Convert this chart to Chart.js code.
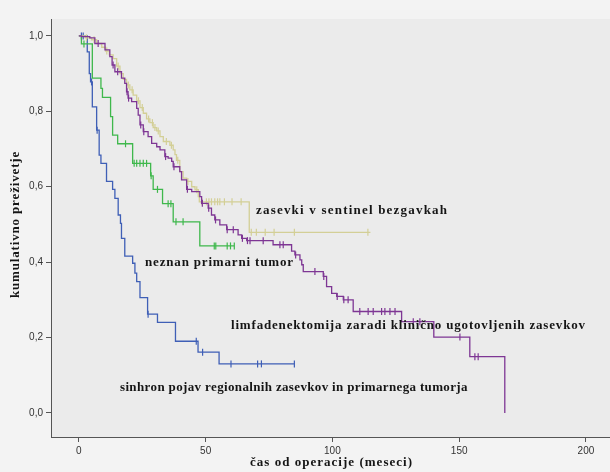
<!DOCTYPE html>
<html>
<head>
<meta charset="utf-8">
<script src="https://cdn.jsdelivr.net/npm/chart.js@4.4.0/dist/chart.umd.min.js"></script>
<style>
  html, body { margin: 0; padding: 0; background: #f3f3f3; }
  #wrap { width: 610px; height: 472px; }
</style>
</head>
<body>
<div id="wrap"><canvas id="km" width="610" height="472"></canvas></div>
<script>
// tick values and labels
const xTicks = [0, 50, 100, 150, 200];
const yTicks = [0, 0.2, 0.4, 0.6, 0.8, 1.0];
const yTickLabels = ['0,0', '0,2', '0,4', '0,6', '0,8', '1,0'];

// skupine
const groupNames = [
  'limfadenektomija zaradi klinično ugotovljenih zasevkov',
  'zasevki v sentinel bezgavkah',
  'neznan primarni tumor',
  'sinhron pojav regionalnih zasevkov in primarnega tumorja'
];

// limfadenektomija (vijolicna)
const purpleTimes = [0, 1, 4.3, 6.3, 10.3, 12.2, 13.1, 14.2, 16.8, 18.1, 18.8, 19.4, 20.8, 22.8, 23.4, 24.1, 25.4, 27.3, 28.7, 30.7, 32.0, 33.9, 35.2, 36.6, 37.2, 39.8, 40.5, 42.5, 44.5, 47.7, 48.4, 51.0, 52.3, 53.6, 55.6, 58.3, 62.8, 64.2, 66.2, 76.6, 83.9, 85.2, 87.2, 87.9, 88.5, 96.4, 97.7, 99.7, 101.7, 104.3, 108.2, 127.3, 140.0, 154.2, 168.0];
const purpleSurv = [1.0, 0.998, 0.995, 0.98, 0.963, 0.945, 0.923, 0.905, 0.888, 0.874, 0.852, 0.835, 0.826, 0.808, 0.79, 0.764, 0.746, 0.733, 0.715, 0.706, 0.698, 0.68, 0.676, 0.667, 0.653, 0.64, 0.618, 0.593, 0.587, 0.574, 0.556, 0.543, 0.525, 0.512, 0.499, 0.486, 0.472, 0.463, 0.457, 0.446, 0.429, 0.419, 0.406, 0.393, 0.375, 0.362, 0.335, 0.317, 0.309, 0.30, 0.269, 0.242, 0.201, 0.149, 0.0];
const purpleCensored = [7.6, 13.5, 15.3, 19.0, 19.6, 24.4, 25.6, 34.2, 37.5, 42.8, 48.7, 51.2, 53.9, 58.5, 60.9, 64.5, 66.5, 67.5, 72.7, 79.3, 80.6, 85.5, 93.1, 96.6, 101.9, 104.5, 106.2, 110.8, 114.1, 116.1, 119.4, 120.7, 122.7, 124.7, 131.9, 134.5, 150.3, 156.2, 157.5];

// sentinel (kaki)
const khakiTimes = [0, 2.5, 5, 7, 9, 10.5, 12, 13.5, 14.9, 16.2, 17.5, 18.8, 20.1, 21.4, 22.8, 24.1, 25.4, 26.7, 28.0, 29.3, 30.7, 32, 33.3, 35.9, 37.2, 37.9, 38.5, 39.8, 41.1, 42.5, 44.5, 45.8, 47.1, 47.5, 67.2, 115];
const khakiSurv = [1.0, 0.995, 0.99, 0.98, 0.97, 0.96, 0.95, 0.94, 0.92, 0.90, 0.885, 0.87, 0.857, 0.843, 0.828, 0.81, 0.795, 0.78, 0.77, 0.757, 0.748, 0.733, 0.72, 0.71, 0.698, 0.685, 0.67, 0.64, 0.623, 0.614, 0.60, 0.592, 0.574, 0.56, 0.479, 0.479];
const khakiCensored = [3, 6, 11, 15.5, 19.5, 21, 23.5, 25, 27.5, 29, 30, 31.3, 34.5, 36.5, 39, 43, 46.5, 48.5, 50.3, 51.3, 52.3, 53.6, 54.7, 55.6, 57.4, 60.4, 64, 68, 70, 73.5, 77, 85, 114];

// neznan primarni tumor (zelena)
const greenTimes = [0, 1.0, 5.3, 8.7, 9.3, 12.5, 13.3, 15.3, 21.2, 28.3, 29.3, 33.0, 37.2, 47.7, 61.3];
const greenSurv = [1.0, 0.979, 0.888, 0.861, 0.837, 0.786, 0.737, 0.714, 0.662, 0.629, 0.593, 0.555, 0.507, 0.443, 0.443];
const greenCensored = [2.0, 18.4, 21.8, 22.8, 24.1, 25.4, 26.7, 28.5, 31.0, 35.2, 36.3, 38.3, 41.1, 53.4, 54.0, 58.5, 59.8, 61.3];

// sinhron pojav (modra)
const blueTimes = [0, 3.3, 4.1, 4.6, 5.3, 7.0, 8.0, 8.7, 10.9, 13.3, 14.2, 15.5, 16.4, 16.8, 18.1, 21.2, 22.1, 22.8, 24.1, 27.1, 31.0, 38.1, 47.0, 55.3, 85];
const blueSurv = [1.0, 0.958, 0.90, 0.878, 0.812, 0.75, 0.684, 0.662, 0.614, 0.593, 0.569, 0.525, 0.503, 0.463, 0.416, 0.397, 0.371, 0.348, 0.306, 0.262, 0.24, 0.19, 0.161, 0.13, 0.13];
const blueCensored = [1.0, 1.7, 5.0, 7.2, 27.3, 46.3, 48.8, 60, 70.5, 72, 85];

const colors = ['#7e3694', '#d3cf96', '#3fb84c', '#3f5fb6'];

function stepPoints(times, surv) {
  return times.map((t, i) => ({ x: t, y: surv[i] }));
}

// vrednost krivulje ob casu t (za oznake cenzuriranih)
function survAt(times, surv, t) {
  let v = surv[0];
  for (let i = 0; i < times.length; i++) {
    if (times[i] <= t) v = surv[i];
  }
  return v;
}

function censorPoints(times, surv, cens) {
  return cens.map(t => ({ x: t, y: survAt(times, surv, t) }));
}

const curves = [
  [purpleTimes, purpleSurv, purpleCensored],
  [khakiTimes, khakiSurv, khakiCensored],
  [greenTimes, greenSurv, greenCensored],
  [blueTimes, blueSurv, blueCensored]
];

const datasets = [];
curves.forEach((c, i) => {
  datasets.push({
    label: groupNames[i],
    data: stepPoints(c[0], c[1]),
    stepped: true,
    borderColor: colors[i],
    borderWidth: 1.3,
    pointRadius: 0,
    fill: false,
    order: i * 2
  });
  datasets.push({
    label: groupNames[i] + ' (cenzurirani)',
    data: censorPoints(c[0], c[1], c[2]),
    showLine: false,
    pointStyle: 'line',
    rotation: 90,
    pointRadius: 3.5,
    pointBorderWidth: 1.2,
    borderColor: colors[i],
    pointBorderColor: colors[i],
    order: i * 2 + 1
  });
});

// oznake skupin na grafu (levi rob, sredina, sirina besedila)
const groupLabels = [
  { text: groupNames[0], x: 231, y: 326, w: 354 },
  { text: groupNames[1], x: 256, y: 211, w: 191 },
  { text: groupNames[2], x: 145, y: 263, w: 148 },
  { text: groupNames[3], x: 120, y: 388, w: 347 }
];

// razprto besedilo, crko za crko
function spacedText(ctx, text, x, y, width) {
  const chars = Array.from(text);
  const plain = ctx.measureText(text).width;
  const gap = chars.length > 1 ? (width - plain) / (chars.length - 1) : 0;
  let cx = x;
  chars.forEach(ch => {
    ctx.fillText(ch, cx, y);
    cx += ctx.measureText(ch).width + gap;
  });
}

const bgPlugin = {
  id: 'bg',
  beforeDraw(chart) {
    const ctx = chart.ctx;
    const a = chart.chartArea;
    ctx.save();
    ctx.fillStyle = '#f3f3f3';
    ctx.fillRect(0, 0, chart.width, chart.height);
    ctx.fillStyle = '#ebebeb';
    ctx.fillRect(a.left, a.top, a.right - a.left, a.bottom - a.top);
    ctx.restore();
  }
};

const textPlugin = {
  id: 'texts',
  afterDraw(chart) {
    const ctx = chart.ctx;
    ctx.save();
    ctx.fillStyle = '#151515';
    ctx.font = 'bold 13px "Liberation Serif"';
    ctx.textBaseline = 'middle';
    ctx.textAlign = 'left';
    groupLabels.forEach(l => spacedText(ctx, l.text, l.x, l.y, l.w));

    spacedText(ctx, 'čas od operacije (meseci)', 250, 463, 162);
    ctx.translate(16, 298);
    ctx.rotate(-Math.PI / 2);
    spacedText(ctx, 'kumulativno preživetje', 0, 0, 146);
    ctx.restore();
  }
};

new Chart(document.getElementById('km'), {
  type: 'line',
  data: { datasets: datasets },
  plugins: [bgPlugin, textPlugin],
  options: {
    responsive: false,
    animation: false,
    layout: { autoPadding: false, padding: { top: 19, right: 0, left: 0, bottom: 0 } },
    plugins: {
      legend: { display: false },
      tooltip: { enabled: false }
    },
    scales: {
      x: {
        type: 'linear',
        min: -11,
        max: 209.5,
        afterFit: s => { s.height = 35; s.paddingLeft = 0; s.paddingRight = 0; },
        afterBuildTicks: s => { s.ticks = xTicks.map(v => ({ value: v })); },
        grid: { drawOnChartArea: false, tickLength: 5, color: '#555' },
        border: { color: '#555', width: 1 },
        ticks: {
          color: '#333',
          font: { family: 'Liberation Sans', size: 10 },
          padding: 3,
          maxRotation: 0
        }
      },
      y: {
        type: 'linear',
        min: -0.064,
        max: 1.045,
        afterFit: s => { s.width = 51; s.paddingTop = 0; s.paddingBottom = 0; },
        afterBuildTicks: s => { s.ticks = yTicks.map(v => ({ value: v })); },
        grid: { drawOnChartArea: false, tickLength: 5, color: '#555' },
        border: { color: '#555', width: 1 },
        ticks: {
          color: '#333',
          font: { family: 'Liberation Sans', size: 10 },
          padding: 3,
          callback: v => yTickLabels[yTicks.indexOf(v)]
        }
      }
    }
  }
});
</script>
</body>
</html>
